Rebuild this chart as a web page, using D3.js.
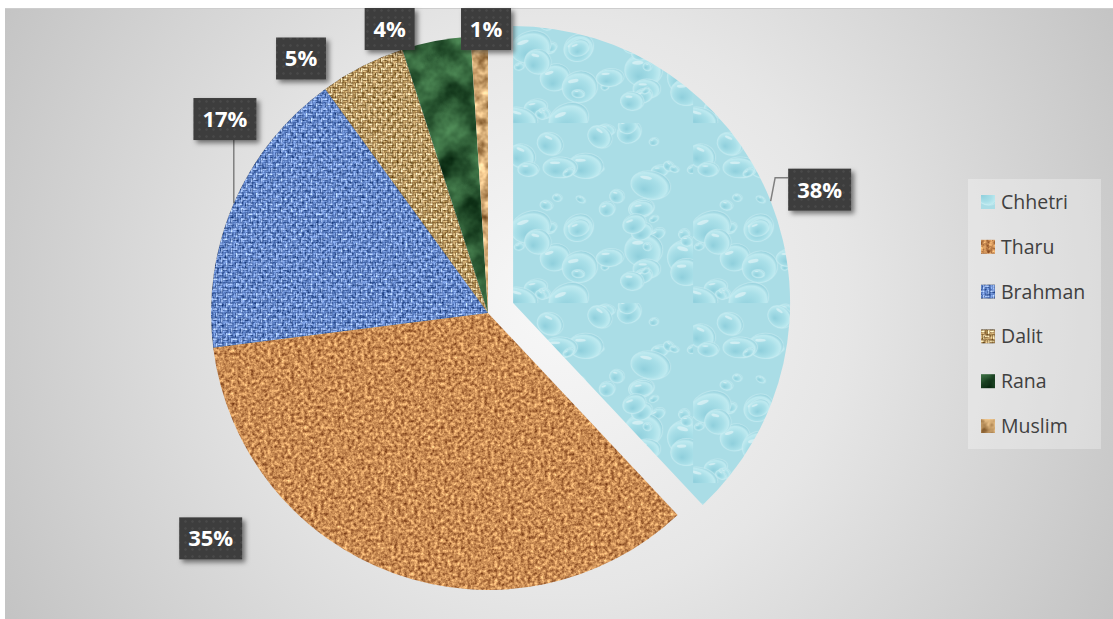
<!DOCTYPE html>
<html>
<head>
<meta charset="utf-8">
<script src="https://cdn.jsdelivr.net/npm/d3@7"></script>
<style>
  html, body { margin: 0; padding: 0; background: #ffffff; }
  svg { display: block; }
</style>
</head>
<body>
<svg id="chart" width="1113" height="619"></svg>
<script>
// Population share by group
const categories = ["Chhetri", "Tharu", "Brahman", "Dalit", "Rana", "Muslim"];
const shares = [38, 35, 17, 5, 4, 1];
const shareLabels = ["38%", "35%", "17%", "5%", "4%", "1%"];

// Where each percentage tag sits: polar angle (deg, clockwise from top) and distance as a multiple of the radius
const labelAngles = [69.7, 230.9, 306.4, 323.7, 340.9, 359.6];
const labelRadii = [1.18, 1.29, 1.18, 1.14, 1.085, 1.025];
const labelLeaders = [true, false, true, false, false, false];

const W = 1113, H = 619;
const cx = 488, cy = 313, R = 277;
const explode = 27;

const svg = d3.select("#chart");
const defs = svg.append("defs");

// ---------- background ----------
const bg = defs.append("radialGradient").attr("id", "bgGrad")
  .attr("gradientUnits", "userSpaceOnUse")
  .attr("cx", 560).attr("cy", 305).attr("r", 640);
bg.append("stop").attr("offset", 0).attr("stop-color", "#f8f8f8");
bg.append("stop").attr("offset", 0.45).attr("stop-color", "#e6e6e6");
bg.append("stop").attr("offset", 1).attr("stop-color", "#c3c3c3");

svg.append("rect").attr("width", W).attr("height", H).attr("fill", "#ffffff");
svg.append("rect").attr("x", 5).attr("y", 8).attr("width", W - 5).attr("height", H - 8)
  .attr("fill", "url(#bgGrad)");
svg.append("line").attr("x1", 5).attr("x2", W).attr("y1", 8.5).attr("y2", 8.5)
  .attr("stroke", "#cdcdcd").attr("stroke-width", 1);

// ---------- textures ----------
function noiseFilter(id, freq, octaves, seed, matrix) {
  const f = defs.append("filter").attr("id", id)
    .attr("x", 0).attr("y", 0).attr("width", 1).attr("height", 1)
    .attr("color-interpolation-filters", "sRGB");
  f.append("feTurbulence").attr("type", "fractalNoise")
    .attr("baseFrequency", freq).attr("numOctaves", octaves).attr("seed", seed).attr("result", "n");
  f.append("feColorMatrix").attr("in", "n").attr("type", "matrix").attr("values", matrix).attr("result", "c");
  f.append("feComposite").attr("in", "c").attr("in2", "SourceAlpha").attr("operator", "in");
}
// cork
noiseFilter("texCork", "0.3", 3, 4,
  "0.85 0 0 0 0.36  0.85 0 0 0 0.12  0.65 0 0 0 0.0  0 0 0 0 1");
// green marble
noiseFilter("texMarble", "0.03", 4, 11,
  "0.5 0 0 0 -0.05  0.7 0 0 0 0.04  0.5 0 0 0 -0.02  0 0 0 0 1");
// parchment
noiseFilter("texParch", "0.08", 3, 2,
  "1.0 0 0 0 0.32  1.0 0 0 0 0.16  0.9 0 0 0 0.0  0 0 0 0 1");

// grain overlay for woven fills
const grain = defs.append("filter").attr("id", "grain")
  .attr("x", 0).attr("y", 0).attr("width", 1).attr("height", 1)
  .attr("color-interpolation-filters", "sRGB");
grain.append("feTurbulence").attr("type", "fractalNoise")
  .attr("baseFrequency", "0.35").attr("numOctaves", 2).attr("seed", 9).attr("result", "n");
grain.append("feColorMatrix").attr("in", "n").attr("type", "matrix")
  .attr("values", "1 0 0 0 0  1 0 0 0 0  1 0 0 0 0  0 0 0 0 1").attr("result", "g");
grain.append("feComposite").attr("in", "SourceGraphic").attr("in2", "g").attr("operator", "arithmetic")
  .attr("k1", 0).attr("k2", 1).attr("k3", 0.7).attr("k4", -0.35).attr("result", "mix");
grain.append("feComposite").attr("in", "mix").attr("in2", "SourceAlpha").attr("operator", "in");

// basket weave tile
function weave(id, dark, light, mid, size) {
  const s = size, h = s / 2;
  const p = defs.append("pattern").attr("id", id).attr("patternUnits", "userSpaceOnUse")
    .attr("width", s).attr("height", s);
  p.append("rect").attr("width", s).attr("height", s).attr("fill", dark);
  const t = s / 8;
  // horizontal threads in top-left and bottom-right quadrants
  [[0, 0], [h, h]].forEach(([x, y]) => {
    p.append("rect").attr("x", x).attr("y", y + t * 0.4).attr("width", h - t * 0.5).attr("height", t * 1.3).attr("fill", light);
    p.append("rect").attr("x", x).attr("y", y + t * 2.3).attr("width", h - t * 0.5).attr("height", t * 1.3).attr("fill", mid);
  });
  // vertical threads in the other two quadrants
  [[h, 0], [0, h]].forEach(([x, y]) => {
    p.append("rect").attr("x", x + t * 0.4).attr("y", y).attr("width", t * 1.3).attr("height", h - t * 0.5).attr("fill", mid);
    p.append("rect").attr("x", x + t * 2.3).attr("y", y).attr("width", t * 1.3).attr("height", h - t * 0.5).attr("fill", light);
  });
}
weave("weaveBlue", "#3f61a6", "#a0bdf0", "#7195d8", 10);
weave("weaveTan", "#8a683a", "#efdcaa", "#c9a86c", 10);

// water drops
const dropGrad = defs.append("radialGradient").attr("id", "dropGrad")
  .attr("cx", 0.45).attr("cy", 0.55).attr("r", 0.55).attr("fx", 0.35).attr("fy", 0.7);
dropGrad.append("stop").attr("offset", 0).attr("stop-color", "#8fcfdc");
dropGrad.append("stop").attr("offset", 0.6).attr("stop-color", "#a9dfe8");
dropGrad.append("stop").attr("offset", 0.88).attr("stop-color", "#bfeaf0");
dropGrad.append("stop").attr("offset", 1).attr("stop-color", "#96d1dd");
const drops = defs.append("pattern").attr("id", "drops").attr("patternUnits", "userSpaceOnUse")
  .attr("width", 180).attr("height", 180);
drops.append("rect").attr("width", 180).attr("height", 180).attr("fill", "#aadde6");
const rng = d3.randomLcg(0.318);
for (let i = 0; i < 60; i++) {
  const x = rng() * 180, y = rng() * 180;
  const r = 4 + Math.pow(rng(), 1.6) * 18;
  const k = 0.6 + rng() * 0.35;
  const g = drops.append("g").attr("transform", `translate(${x},${y}) rotate(${rng() * 70 - 35})`);
  g.append("ellipse").attr("rx", r).attr("ry", r * k).attr("fill", "url(#dropGrad)")
    .attr("stroke", "#cdeff4").attr("stroke-width", 1).attr("stroke-opacity", 0.6);
  g.append("ellipse").attr("cx", -r * 0.3).attr("cy", -r * k * 0.45)
    .attr("rx", r * 0.3).attr("ry", r * k * 0.12).attr("fill", "#ffffff").attr("opacity", 0.45);
}

const fills = [
  { fill: "url(#drops)", filter: null },
  { fill: "#c08a55", filter: "url(#texCork)" },
  { fill: "url(#weaveBlue)", filter: "url(#grain)" },
  { fill: "url(#weaveTan)", filter: "url(#grain)" },
  { fill: "#2d6a3a", filter: "url(#texMarble)" },
  { fill: "#d2a878", filter: "url(#texParch)" }
];

// ---------- pie ----------
const pie = d3.pie().sort(null).value(d => d);
const arcs = pie(shares);
const arc = d3.arc().innerRadius(0).outerRadius(R);

function sliceOffset(i) {
  if (i !== 0) return [0, 0];
  const a = (arcs[i].startAngle + arcs[i].endAngle) / 2;
  return [explode * Math.sin(a), -explode * Math.cos(a)];
}

const pieG = svg.append("g").attr("transform", `translate(${cx},${cy})`);
pieG.selectAll("path.slice").data(arcs).join("path")
  .attr("class", "slice")
  .attr("transform", (d, i) => `translate(${sliceOffset(i)})`)
  .attr("d", arc)
  .attr("fill", (d, i) => fills[i].fill)
  .attr("filter", (d, i) => fills[i].filter);

// ---------- percentage tags ----------
const tagDots = defs.append("pattern").attr("id", "tagDots").attr("patternUnits", "userSpaceOnUse")
  .attr("width", 7).attr("height", 7);
tagDots.append("rect").attr("width", 7).attr("height", 7).attr("fill", "#3d3d3d");
tagDots.append("circle").attr("cx", 3.5).attr("cy", 3.5).attr("r", 1.3).attr("fill", "#4a4a4a");

const shadow = defs.append("filter").attr("id", "tagShadow")
  .attr("x", -0.3).attr("y", -0.3).attr("width", 1.6).attr("height", 1.7);
shadow.append("feDropShadow").attr("dx", 3).attr("dy", 3).attr("stdDeviation", 2.5)
  .attr("flood-color", "#000").attr("flood-opacity", 0.5);

const tagFont = 22;
const tagH = 42, padX = 9;
const tagsG = svg.append("g");

arcs.forEach((d, i) => {
  const [ox, oy] = sliceOffset(i);
  const a = labelAngles[i] * Math.PI / 180;
  const px = cx + ox + R * labelRadii[i] * Math.sin(a);
  const py = cy + oy - R * labelRadii[i] * Math.cos(a);

  const g = tagsG.append("g");
  const txt = g.append("text")
    .attr("x", px).attr("y", py + tagFont * 0.36)
    .attr("text-anchor", "middle")
    .attr("font-family", "'Open Sans', 'DejaVu Sans', sans-serif")
    .attr("font-weight", 700).attr("font-size", tagFont)
    .attr("fill", "#ffffff")
    .text(shareLabels[i]);
  const tw = txt.node().getComputedTextLength();
  const bw = Math.round(tw + padX * 2);
  const bx = px - bw / 2, by = py - tagH / 2;

  if (labelLeaders[i]) {
    const mid = (d.startAngle + d.endAngle) / 2;
    const ax = cx + ox + R * Math.sin(mid), ay = cy + oy - R * Math.cos(mid);
    let pts;
    if (ax < bx) {
      pts = [[ax, ay], [bx - 13, by + 9], [bx, by + 9]];
    } else {
      pts = [[ax, ay], [ax, by + tagH]];
    }
    tagsG.insert("path", ":first-child")
      .attr("d", d3.line()(pts))
      .attr("fill", "none").attr("stroke", "#7f7f7f").attr("stroke-width", 1.5);
  }

  g.insert("rect", "text")
    .attr("x", bx).attr("y", by).attr("width", bw).attr("height", tagH)
    .attr("fill", "url(#tagDots)")
    .attr("filter", "url(#tagShadow)");
});

// ---------- legend ----------
const legG = svg.append("g");
legG.append("rect").attr("x", 968).attr("y", 179).attr("width", 133).attr("height", 270)
  .attr("fill", "#ffffff").attr("fill-opacity", 0.3);
const rowY = d3.scalePoint().domain(categories).range([202, 426]);
categories.forEach((c, i) => {
  const y = rowY(c);
  legG.append("rect").attr("x", 981).attr("y", y - 7).attr("width", 14).attr("height", 14)
    .attr("fill", fills[i].fill).attr("filter", fills[i].filter);
  legG.append("text").attr("x", 1001).attr("y", y + 7)
    .attr("font-family", "'Open Sans', 'DejaVu Sans', sans-serif")
    .attr("font-size", 19.5).attr("fill", "#404040")
    .text(c);
});
</script>
</body>
</html>
